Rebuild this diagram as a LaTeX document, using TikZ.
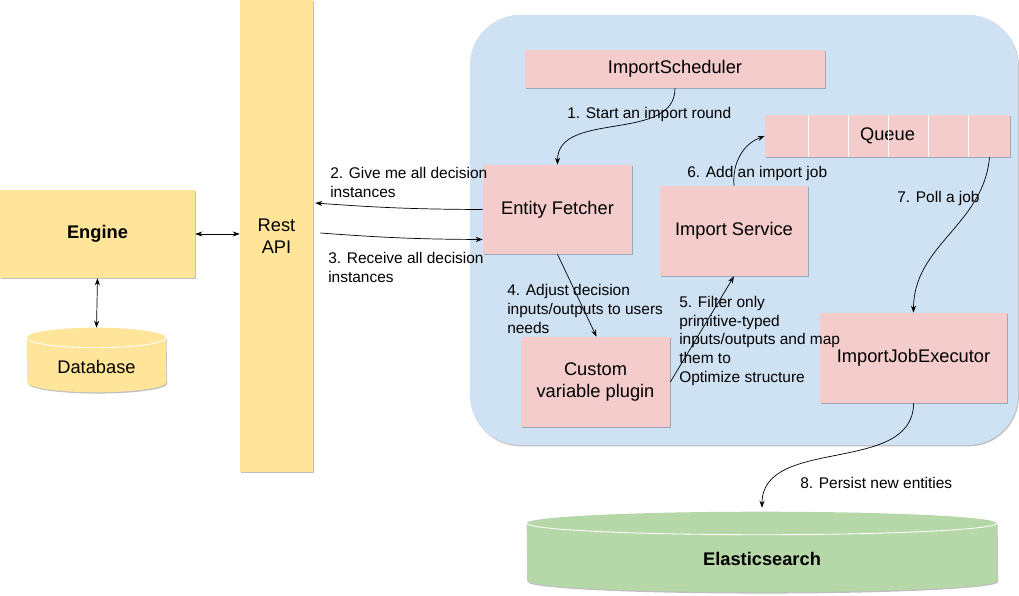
\documentclass[tikz,border=0pt]{standalone}
\usepackage{fontspec}
\setmainfont{Liberation Sans}
\usetikzlibrary{arrows.meta, shadows, calc, backgrounds}

\definecolor{boxpink}{HTML}{F4CCCC}
\definecolor{boxyellow}{HTML}{FFE599}
\definecolor{boxgreen}{HTML}{B6D7A8}
\definecolor{areablue}{HTML}{CFE2F3}

\tikzset{
	shadowed/.style = {drop shadow = {shadow xshift=0.6pt, shadow yshift=-0.9pt, opacity=0.25, fill=black}},
	component/.style = {rectangle, fill=boxpink, shadowed, align=center, inner sep=2pt, font=\fontsize{13}{15.5}\selectfont},
	service/.style = {rectangle, fill=boxyellow, shadowed, align=center, inner sep=2pt, font=\fontsize{13}{15.5}\selectfont},
	store/.style = {rectangle, inner sep=0pt, text height=19pt, text depth=0pt, font=\fontsize{13}{15.5}\selectfont},
	flow/.style = {-{Stealth[length=5pt, width=3.6pt]}, line width=0.5pt},
	twoway/.style = {{Stealth[length=5pt, width=3.6pt]}-{Stealth[length=5pt, width=3.6pt]}, line width=0.5pt},
	flowlabel/.style = {anchor=west, align=left, inner sep=0pt, font=\fontsize{11}{13.5}\selectfont}
}

\begin{document}
\begin{tikzpicture}[x=0.025cm, y=-0.025cm]
	\useasboundingbox (0,0) rectangle (1019,596);

	% the optimize side
	\node[fill=areablue, rounded corners=1.25cm, minimum width=13.7cm, minimum height=10.75cm, shadowed] (optimize) at (744,230) {};

	\node[service, minimum width=1.825cm, minimum height=11.8cm] (rest) at (276.5,236) {Rest\\API};
	\node[service, minimum width=4.875cm, minimum height=2.2cm, font=\fontsize{13}{15.5}\selectfont\bfseries] (engine) at (97.5,234) {Engine};
	\node[store, minimum width=3.475cm, minimum height=1.6cm] (database) at (96.5,360) {Database};

	\node[component, minimum width=7.5cm, minimum height=0.95cm] (scheduler) at (675,69) {ImportScheduler};
	\node[component, minimum width=6.125cm, minimum height=1.05cm] (queue) at (887.5,136) {Queue};
	\foreach \qx in {44,84,124,164,204}
		\draw[white, line width=0.6pt] ($(queue.north west)+(\qx,0)$) -- ($(queue.south west)+(\qx,0)$);
	\node[component, minimum width=3.725cm, minimum height=2.225cm] (fetcher) at (557.5,209.5) {Entity Fetcher};
	\node[component, minimum width=3.7cm, minimum height=2.25cm] (importsvc) at (734,231) {Import Service};
	\node[component, minimum width=3.725cm, minimum height=2.25cm] (plugin) at (595.5,382) {Custom\\variable plugin};
	\node[component, minimum width=4.675cm, minimum height=2.25cm] (executor) at (913.5,358) {ImportJobExecutor};

	\node[store, minimum width=11.75cm, minimum height=2cm, font=\fontsize{13}{15.5}\selectfont\bfseries] (elastic) at (762,552) {Elasticsearch};

	% cylinders behind the two stores
	\begin{scope}[on background layer]
		\foreach \st/\rx/\ry/\col in {database/1.7375/0.25/boxyellow, elastic/5.875/0.2875/boxgreen} {
			\fill[\col, shadowed] ($(\st.north west)+(0cm,-\ry cm)$) arc[start angle=180, end angle=0, x radius=\rx cm, y radius=\ry cm]
				-- ($(\st.south east)+(0cm,\ry cm)$) arc[start angle=0, end angle=-180, x radius=\rx cm, y radius=\ry cm] -- cycle;
			\draw[white, line width=0.6pt] ($(\st.north west)+(0cm,-\ry cm)$) arc[start angle=180, end angle=360, x radius=\rx cm, y radius=\ry cm];
		}
	\end{scope}

	\draw[twoway] (engine.east) -- (engine.east -| rest.west);
	\draw[twoway] (engine.south) -- (database.north);

	\draw[flow] (scheduler.south) to[out=-90, in=90] (fetcher.north);
	\draw[flow] (fetcher.west) to[bend left=2] ($(rest.east)+(2,-33)$);
	\draw[flow] ($(rest.east)+(7,-3)$) to[bend right=2] ($(fetcher.west)+(0,30)$);
	\draw[flow] (fetcher.south) -- ($(plugin.north)+(1,0)$);
	\draw[flow] (plugin.east) -- (importsvc.south);
	\draw[flow] (importsvc.north) to[out=95, in=200] (queue.west);
	\draw[flow] ($(queue.south)+(102,0)$) to[out=-95, in=90] (executor.north);
	\draw[flow] (executor.south) to[out=-90, in=90] ($(elastic.north)+(0,-4)$);

	\node[flowlabel] (step1) at (567,115) {1. Start an import round};
	\node[flowlabel] (step2) at (330,182) {2. Give me all decision\\instances};
	\node[flowlabel] (step3) at (328,267) {3. Receive all decision\\instances};
	\node[flowlabel] (step4) at (507,309) {4. Adjust decision\\inputs/outputs to users\\needs};
	\node[flowlabel] (step5) at (679,341) {5. Filter only\\primitive-typed\\inputs/outputs and map\\them to\\Optimize structure};
	\node[flowlabel] (step6) at (687,174) {6. Add an import job};
	\node[flowlabel] (step7) at (897,199) {7. Poll a job};
	\node[flowlabel] (step8) at (800,483) {8. Persist new entities};
\end{tikzpicture}
\end{document}
